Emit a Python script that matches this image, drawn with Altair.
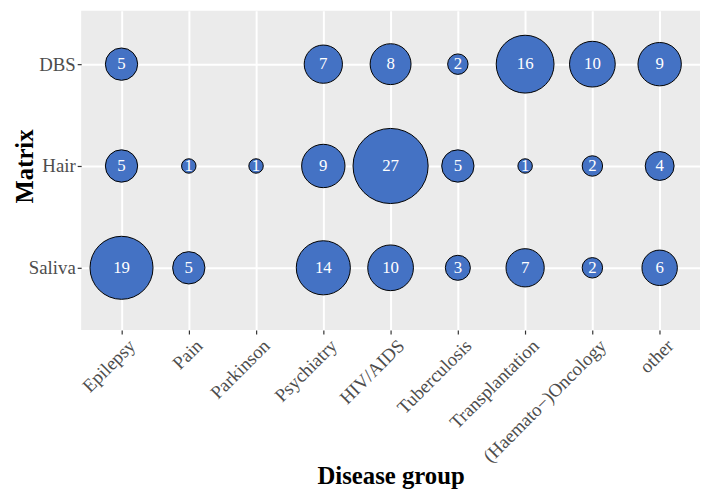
import altair as alt
import pandas as pd

diseases = ["Epilepsy", "Pain", "Parkinson", "Psychiatry", "HIV/AIDS",
            "Tuberculosis", "Transplantation", "(Haemato\u2212)Oncology", "other"]
matrices = ["DBS", "Hair", "Saliva"]

dbs_counts = [5, None, None, 7, 8, 2, 16, 10, 9]
hair_counts = [5, 1, 1, 9, 27, 5, 1, 2, 4]
saliva_counts = [19, 5, None, 14, 10, 3, 7, 2, 6]

rows = []
for m, counts in zip(matrices, [dbs_counts, hair_counts, saliva_counts]):
    for d, c in zip(diseases, counts):
        if c is not None:
            rows.append({"Disease": d, "Matrix": m, "n": c})
df = pd.DataFrame(rows)

FONT = "Liberation Serif"
W, H = 626, 323

x_enc = alt.X("Disease:N", sort=diseases,
              scale=alt.Scale(domain=diseases, type="point", padding=0.6),
              axis=alt.Axis(title="Disease group", labelAngle=-45,
                            labelAlign="right", labelBaseline="top",
                            labelFontSize=19, labelColor="#4D4D4D",
                            labelFont=FONT, titleFont=FONT, titleFontSize=25,
                            titleFontWeight="bold", titleColor="black",
                            titleX=313, titleY=147, titleAlign="center",
                            titleBaseline="middle",
                            tickColor="#333333", tickSize=4, tickWidth=1.2,
                            domain=False, grid=True, gridColor="white",
                            gridWidth=2, labelPadding=2, labelOffset=4))
y_enc = alt.Y("Matrix:N", sort=matrices,
              scale=alt.Scale(domain=matrices, type="point", padding=0.568, align=0.4615),
              axis=alt.Axis(title="Matrix", labelFontSize=19, labelColor="#4D4D4D",
                            labelFont=FONT, titleFont=FONT, titleFontSize=25,
                            titleFontWeight="bold", titleColor="black",
                            titleX=-57, titleY=157, titleAlign="center",
                            titleBaseline="middle", titleAngle=-90,
                            tickColor="#333333", tickSize=4, tickWidth=1.2,
                            domain=False, grid=True, gridColor="white",
                            gridWidth=2, labelPadding=2))

points = alt.Chart(df).mark_point(filled=True, shape="circle", fill="#4472C4",
                                  stroke="black", strokeWidth=1, opacity=1,
                                  fillOpacity=1).encode(
    x=x_enc, y=y_enc,
    size=alt.Size("n:Q", scale=alt.Scale(domain=[0, 27], range=[0, 5776], zero=True),
                  legend=None),
)

labels = alt.Chart(df).mark_text(color="white", font=FONT, fontSize=17,
                                 baseline="middle", align="center").encode(
    x=alt.X("Disease:N", sort=diseases), y=alt.Y("Matrix:N", sort=matrices),
    text="n:Q",
)

chart = (points + labels).properties(
    width=W, height=H,
    padding={"left": 74, "top": 0, "right": 1, "bottom": 164},
    autosize=alt.AutoSizeParams(type="none"),
).configure_view(fill="#EBEBEB", stroke=None)

chart.save("out.html", embed_options={"renderer": "svg", "actions": False})
